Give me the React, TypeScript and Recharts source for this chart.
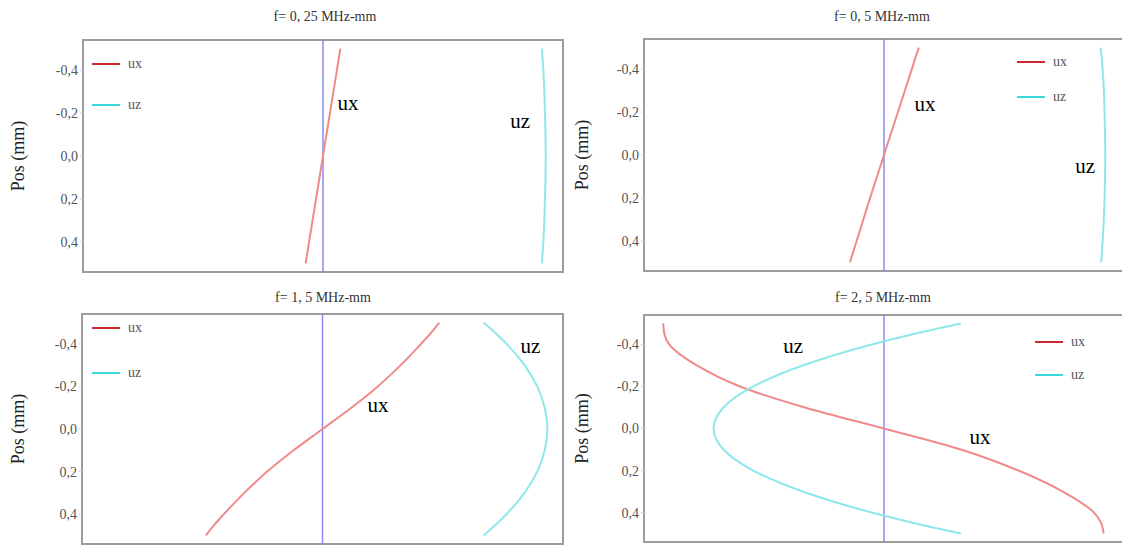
import React from 'react';
import { LineChart, Line, XAxis, YAxis, ReferenceLine, ReferenceArea, ReferenceDot, Legend } from 'recharts';

// Position through the thickness (mm)
const POS = [-0.5, -0.45, -0.4, -0.3, -0.2, -0.1, 0, 0.1, 0.2, 0.3, 0.4, 0.45, 0.5];
const Y_TICKS = [-0.4, -0.2, 0, 0.2, 0.4];
const SERIES = ['ux', 'uz'];
const TITLES = ['f= 0, 25 MHz-mm', 'f= 0, 5 MHz-mm', 'f= 1, 5 MHz-mm', 'f= 2, 5 MHz-mm'];

// f = 0.25 MHz-mm
const UX_025 = [0.0725, 0.065, 0.058, 0.0435, 0.029, 0.0145, 0, -0.0145, -0.029, -0.0435, -0.058, -0.065, -0.0725];
const UZ_025 = [0.912, 0.915, 0.918, 0.922, 0.925, 0.927, 0.928, 0.927, 0.925, 0.922, 0.918, 0.915, 0.912];
// f = 0.5 MHz-mm
const UX_05 = [0.145, 0.13, 0.116, 0.087, 0.058, 0.029, 0, -0.029, -0.058, -0.086, -0.114, -0.128, -0.142];
const UZ_05 = [0.903, 0.907, 0.911, 0.916, 0.919, 0.921, 0.922, 0.921, 0.919, 0.916, 0.911, 0.908, 0.905];
// f = 1.5 MHz-mm
const UX_15 = [0.485, 0.45, 0.41, 0.325, 0.23, 0.12, 0, -0.12, -0.23, -0.325, -0.41, -0.45, -0.485];
const UZ_15 = [0.67, 0.72, 0.765, 0.84, 0.893, 0.924, 0.935, 0.924, 0.893, 0.84, 0.765, 0.72, 0.67];
// f = 2.5 MHz-mm
const UX_25 = [-0.92, -0.915, -0.895, -0.78, -0.6, -0.33, 0, 0.32, 0.56, 0.745, 0.875, 0.905, 0.915];
const UZ_25 = [0.32, 0.124, -0.051, -0.339, -0.545, -0.669, -0.71, -0.669, -0.545, -0.339, -0.051, 0.124, 0.32];

const CURVE_COLORS: Record<string, string> = { ux: '#f08a8a', uz: '#8ee8ea' };
const LEGEND_COLORS: Record<string, string> = { ux: '#cc2a30', uz: '#3ad8dc' };
const ZERO_COLOR = '#8a8af2';
const BOX_COLOR = '#9c9c9c';
const SERIF = '"Liberation Serif", "Times New Roman", serif';

const buildRows = (ux: number[], uz: number[]) =>
  POS.map((p, i) => ({ pos: p, ux: ux[i], uz: uz[i] }));

const fmt = (v: number) => v.toFixed(1).replace('.', ',');

const AxisTitle = (props: any) => {
  const vb = props.viewBox || { x: 0, y: 0, width: 0, height: 0 };
  const x = vb.x + props.dx;
  const y = vb.y + vb.height / 2;
  return (
    <text x={x} y={y} transform={`rotate(-90, ${x}, ${y})`} textAnchor="middle" dominantBaseline="central"
      fontSize={18} fontFamily={SERIF} fill="#222">Pos (mm)</text>
  );
};

const makeLegend = (gap: number) => (props: any) => (
  <div style={{ fontFamily: SERIF, fontSize: 14, color: '#555', lineHeight: '14px' }}>
    {(props.payload || []).map((p: any, i: number) => (
      <div key={i} style={{ display: 'flex', alignItems: 'center', height: 14, marginBottom: i === 0 ? gap - 14 : 0 }}>
        <svg width={30} height={4} style={{ display: 'block' }}>
          <line x1={0} y1={2} x2={28} y2={2} stroke={LEGEND_COLORS[p.value]} strokeWidth={2} />
        </svg>
        <span style={{ marginLeft: 6 }}>{p.value}</span>
      </div>
    ))}
  </div>
);

type Note = { text: string; x: number; y: number };

type PanelProps = {
  left: number; top: number; width: number; height: number;
  margin: { top: number; right: number; bottom: number; left: number };
  title: string; titleX: number; titleY: number;
  ux: number[]; uz: number[];
  yDomain: number;
  legendLeft: number; legendTop: number; legendGap: number;
  notes: Note[];
  labelDx: number;
};

const Panel = (p: PanelProps) => {
  const rows = buildRows(p.ux, p.uz);
  return (
    <>
      <div style={{ position: 'absolute', left: p.titleX, top: p.titleY, transform: 'translateX(-50%)', whiteSpace: 'nowrap',
        fontFamily: SERIF, fontSize: 14, color: '#333', lineHeight: '16px' }}>{p.title}</div>
      <div style={{ position: 'absolute', left: p.left, top: p.top }}>
        <LineChart width={p.width} height={p.height} data={rows} layout="vertical" margin={p.margin}>
          <XAxis type="number" domain={[-1, 1]} hide allowDataOverflow />
          <YAxis type="number" dataKey="pos" domain={[-p.yDomain, p.yDomain]} allowDataOverflow
            ticks={Y_TICKS} tickFormatter={fmt} width={80} axisLine={false} tickSize={3} tickMargin={2}
            tickLine={{ stroke: '#c9c9e6' }}
            tick={{ fill: '#555', fontSize: 14, fontFamily: SERIF }}
            label={<AxisTitle dx={p.labelDx} />} />
          <ReferenceLine x={0} stroke={ZERO_COLOR} strokeWidth={1.5} />
          {SERIES.map((s) => (
            <Line key={s} dataKey={s} name={s} type="monotone" stroke={CURVE_COLORS[s]} strokeWidth={2}
              dot={false} activeDot={false} isAnimationActive={false} />
          ))}
          <ReferenceArea x1={-1} x2={1} y1={-p.yDomain} y2={p.yDomain} fill="none" fillOpacity={0}
            stroke={BOX_COLOR} strokeWidth={2} ifOverflow="visible" />
          {p.notes.map((n, i) => (
            <ReferenceDot key={i} x={n.x} y={n.y} r={0} fill="none" stroke="none" ifOverflow="visible"
              label={{ value: n.text, position: 'center', fill: '#000', fontSize: 21, fontFamily: SERIF }} />
          ))}
          <Legend content={makeLegend(p.legendGap)} layout="vertical" align="center" verticalAlign="middle"
            wrapperStyle={{ left: p.legendLeft, top: p.legendTop, width: 'auto', height: 'auto' }} />
        </LineChart>
      </div>
    </>
  );
};

export default function App() {
  return (
    <div style={{ position: 'absolute', left: 0, top: 0, width: 1122, height: 545, overflow: 'hidden', background: '#fff' }}>
      <Panel left={0} top={0} width={570} height={280} margin={{ top: 40, right: 7, bottom: 8, left: 3 }}
        title={TITLES[0]} titleX={325} titleY={9} ux={UX_025} uz={UZ_025} yDomain={0.54}
        legendLeft={92} legendTop={57} legendGap={41} labelDx={15}
        notes={[{ text: 'ux', x: 0.104, y: -0.247 }, { text: 'uz', x: 0.821, y: -0.163 }]} />
      <Panel left={561} top={0} width={563} height={280} margin={{ top: 39, right: 0, bottom: 9, left: 3 }}
        title={TITLES[1]} titleX={882} titleY={9} ux={UX_05} uz={UZ_05} yDomain={0.54}
        legendLeft={456} legendTop={55} legendGap={35} labelDx={18}
        notes={[{ text: 'ux', x: 0.171, y: -0.241 }, { text: 'uz', x: 0.838, y: 0.047 }]} />
      <Panel left={0} top={275} width={570} height={275} margin={{ top: 39, right: 7, bottom: 6, left: 2 }}
        title={TITLES[2]} titleX={323} titleY={290} ux={UX_15} uz={UZ_15} yDomain={0.54}
        legendLeft={92} legendTop={46} legendGap={45} labelDx={16}
        notes={[{ text: 'uz', x: 0.865, y: -0.39 }, { text: 'ux', x: 0.231, y: -0.113 }]} />
      <Panel left={561} top={275} width={563} height={275} margin={{ top: 40, right: 0, bottom: 8, left: 3 }}
        title={TITLES[3]} titleX={883} titleY={290} ux={UX_25} uz={UZ_25} yDomain={0.54}
        legendLeft={474} legendTop={60} legendGap={33} labelDx={18}
        notes={[{ text: 'uz', x: -0.379, y: -0.393 }, { text: 'ux', x: 0.4, y: 0.04 }]} />
    </div>
  );
}
